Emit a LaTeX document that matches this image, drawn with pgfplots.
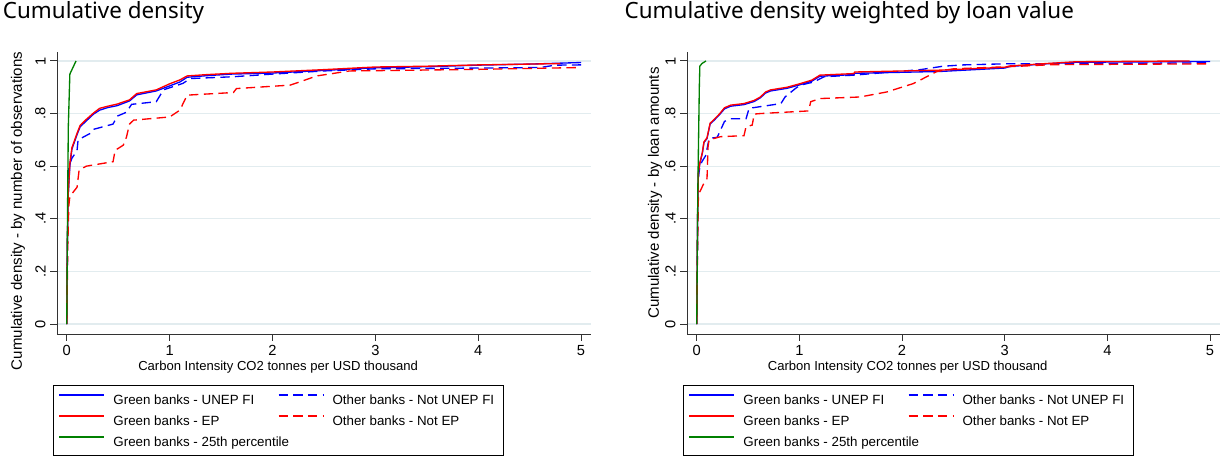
\documentclass[border=0pt]{standalone}
\usepackage{fontspec}
\setmainfont{Liberation Sans}
\newfontfamily\titlefont{Noto Sans}
\usepackage{pgfplots}
\pgfplotsset{compat=1.18}
\definecolor{gridc}{RGB}{226,236,239}
\definecolor{sgreen}{RGB}{0,128,0}
\definecolor{sblue}{RGB}{0,0,255}
\definecolor{sred}{RGB}{255,0,0}

\pgfplotsset{
  cdf/.style={
    scale only axis,
    anchor=south west,
    xmin=-0.095, xmax=5.097,
    ymin=-0.038, ymax=1.034,
    axis lines*=left,
    axis line style={black!80, line width=0.7pt},
    every tick/.style={black!80, line width=0.7pt},
    tick align=outside,
    major tick length=5pt,
    xtick={0,1,2,3,4,5},
    xticklabels={0,1,2,3,4,5},
    ytick={0,0.2,0.4,0.6,0.8,1},
    yticklabels={0,.2,.4,.6,.8,1},
    yticklabel style={rotate=90, anchor=south},
    ticklabel style={font=\fontsize{11}{13}\selectfont},
    ymajorgrids,
    grid style={gridc, line width=1pt},
    xlabel={Carbon Intensity CO2 tonnes per USD thousand},
    xlabel style={font=\fontsize{9.8}{11}\selectfont, at={(axis description cs:0.414,-0.117)}, anchor=center},
    ylabel style={font=\fontsize{11.3}{13}\selectfont, rotate=0},
    title style={font=\titlefont\fontsize{16.8}{20}\selectfont, anchor=base west},
    legend columns=2,
    legend cell align=left,
    legend style={draw=black, line width=0.5pt, font=\fontsize{10}{12}\selectfont,
      inner xsep=3.75pt, inner ysep=4.5pt, row sep=3.75pt,
      nodes={inner sep=0pt, text height=9.5pt, text depth=2.5pt},
      /tikz/every odd column/.style={column sep=6pt},
      at={(axis description cs:-0.0075,-0.181)}, anchor=north west},
    every axis plot/.append style={line width=1pt},
  },
  limg/.style={legend image code/.code={\draw[#1, line width=1.6pt] (0pt,3pt) -- (33.75pt,3pt);}},
  gb/.style={draw=sblue, solid, limg={draw=sblue, solid}},
  ob/.style={draw=sblue, dash pattern=on 7pt off 4pt, limg={draw=sblue, dash pattern=on 7pt off 4pt}},
  gr/.style={draw=sred, solid, limg={draw=sred, solid}},
  orr/.style={draw=sred, dash pattern=on 7pt off 4pt, limg={draw=sred, dash pattern=on 7pt off 4pt}},
  gg/.style={draw=sgreen, solid, limg={draw=sgreen, solid}},
}

\newcommand{\cA}[1]{\makebox[123pt][l]{#1}}
\newcommand{\cB}[1]{\makebox[124pt][l]{#1}}

\begin{document}
\begin{tikzpicture}
\useasboundingbox (0pt,0pt) rectangle (915.75pt,342.75pt);

% left panel: by number of observations
\begin{axis}[cdf,
  at={(42.75pt,92.25pt)},
  width=400.5pt, height=211.5pt,
  title={Cumulative density},
  title style={at={(axis description cs:-0.11,1.092)}},
  ylabel={Cumulative density - by number of observations},
  ylabel style={at={(axis description cs:-0.073,0.436)}, anchor=center},
]
\addplot[gb] coordinates {
 (0,0) (0.005,0.3) (0.015,0.5) (0.03,0.6) (0.05,0.665) (0.1,0.72) (0.13,0.75)
 (0.19,0.772) (0.26,0.798) (0.32,0.813) (0.4,0.823) (0.49,0.83) (0.61,0.848)
 (0.68,0.871) (0.87,0.886) (1.0,0.905) (1.1,0.92) (1.17,0.938) (1.36,0.944)
 (1.6,0.95) (2.0,0.954) (2.5,0.964) (3.0,0.974) (3.5,0.978) (4.0,0.984)
 (4.5,0.988) (5.0,0.994)
};
\addlegendentry{\cA{Green banks - UNEP FI}}
\addplot[ob] coordinates {
 (0,0) (0.01,0.4) (0.02,0.6) (0.05,0.63) (0.1,0.66) (0.11,0.70) (0.23,0.725)
 (0.26,0.74) (0.45,0.76) (0.49,0.79) (0.58,0.805) (0.63,0.835) (0.87,0.845)
 (0.94,0.89) (1.13,0.915) (1.2,0.933) (1.62,0.94) (2.0,0.95) (2.5,0.962)
 (3.0,0.970) (4.0,0.973) (4.6,0.975) (4.75,0.984) (5.0,0.985)
};
\addlegendentry{\cB{Other banks - Not UNEP FI}}
\addplot[gr] coordinates {
 (0,0) (0.005,0.3) (0.015,0.5) (0.03,0.61) (0.05,0.67) (0.1,0.725) (0.13,0.755)
 (0.19,0.778) (0.26,0.802) (0.32,0.82) (0.4,0.828) (0.49,0.836) (0.61,0.852)
 (0.68,0.876) (0.87,0.89) (1.0,0.913) (1.1,0.928) (1.17,0.943) (1.36,0.948)
 (1.6,0.953) (2.0,0.958) (2.5,0.967) (3.0,0.977) (3.5,0.98) (4.0,0.985)
 (4.8,0.99)
};
\addlegendentry{\cA{Green banks - EP}}
\addplot[orr] coordinates {
 (0,0) (0.01,0.3) (0.02,0.45) (0.03,0.485) (0.1,0.52) (0.12,0.585) (0.19,0.60)
 (0.45,0.617) (0.47,0.66) (0.55,0.68) (0.58,0.71) (0.61,0.76) (0.65,0.775)
 (1.0,0.787) (1.1,0.813) (1.17,0.87) (1.62,0.88) (1.65,0.895) (2.17,0.908)
 (2.27,0.921) (2.43,0.943) (2.75,0.962) (3.0,0.963) (4.0,0.968) (5.0,0.975)
};
\addlegendentry{\cB{Other banks - Not EP}}
\addplot[gg] coordinates {
 (0,0) (0.008,0.45) (0.015,0.75) (0.03,0.95) (0.06,0.975) (0.09,1.0)
};
\addlegendentry{\cA{Green banks - 25th percentile}}
\end{axis}

% right panel: weighted by loan value
\begin{axis}[cdf,
  at={(515.25pt,92.25pt)},
  width=399.75pt, height=211.5pt,
  title={Cumulative density weighted by loan value},
  title style={at={(axis description cs:-0.1257,1.092)}},
  ylabel={Cumulative density - by loan amounts},
  ylabel style={at={(axis description cs:-0.060,0.5)}, anchor=center},
]
\addplot[gb] coordinates {
 (0,0) (0.008,0.4) (0.016,0.573) (0.03,0.61) (0.055,0.65) (0.07,0.69) (0.1,0.705)
 (0.13,0.76) (0.17,0.775) (0.22,0.795) (0.27,0.818) (0.33,0.828) (0.46,0.834)
 (0.56,0.846) (0.62,0.86) (0.67,0.878) (0.72,0.886) (0.88,0.896) (1.01,0.91)
 (1.12,0.923) (1.2,0.942) (1.53,0.948) (1.54,0.953) (2.37,0.96) (3.0,0.973)
 (3.05,0.979) (3.44,0.99) (3.7,0.995) (5.0,0.998)
};
\addlegendentry{\cA{Green banks - UNEP FI}}
\addplot[ob] coordinates {
 (0,0) (0.008,0.35) (0.013,0.547) (0.03,0.6) (0.055,0.62) (0.087,0.64) (0.11,0.685)
 (0.12,0.705) (0.2,0.71) (0.27,0.77) (0.33,0.78) (0.48,0.78) (0.51,0.82)
 (0.65,0.828) (0.82,0.838) (0.86,0.863) (0.96,0.895) (1.01,0.908) (1.14,0.92)
 (1.24,0.94) (1.53,0.946) (2.18,0.967) (2.4,0.98) (2.6,0.985) (3.0,0.989)
 (4.0,0.99) (5.0,0.993)
};
\addlegendentry{\cB{Other banks - Not UNEP FI}}
\addplot[gr] coordinates {
 (0,0) (0.008,0.4) (0.016,0.575) (0.03,0.612) (0.055,0.653) (0.07,0.692) (0.1,0.708)
 (0.13,0.763) (0.17,0.778) (0.22,0.798) (0.27,0.822) (0.33,0.832) (0.46,0.838)
 (0.56,0.85) (0.62,0.863) (0.67,0.882) (0.72,0.89) (0.88,0.9) (1.01,0.914)
 (1.12,0.927) (1.2,0.946) (1.53,0.952) (1.54,0.958) (2.37,0.965) (3.0,0.976)
 (3.05,0.981) (3.44,0.991) (3.7,0.997) (4.8,1.0)
};
\addlegendentry{\cA{Green banks - EP}}
\addplot[orr] coordinates {
 (0,0) (0.008,0.3) (0.016,0.484) (0.03,0.503) (0.07,0.535) (0.1,0.553) (0.11,0.674)
 (0.12,0.70) (0.23,0.712) (0.46,0.716) (0.48,0.75) (0.54,0.756) (0.56,0.798)
 (0.62,0.80) (1.09,0.81) (1.11,0.845) (1.2,0.857) (1.59,0.863) (1.85,0.882)
 (2.11,0.914) (2.18,0.928) (2.34,0.96) (2.5,0.97) (3.15,0.98) (3.47,0.986)
 (5.0,0.989)
};
\addlegendentry{\cB{Other banks - Not EP}}
\addplot[gg] coordinates {
 (0,0) (0.01,0.5) (0.025,0.9) (0.03,0.98) (0.05,0.99) (0.09,1.0)
};
\addlegendentry{\cA{Green banks - 25th percentile}}
\end{axis}
\end{tikzpicture}
\end{document}
